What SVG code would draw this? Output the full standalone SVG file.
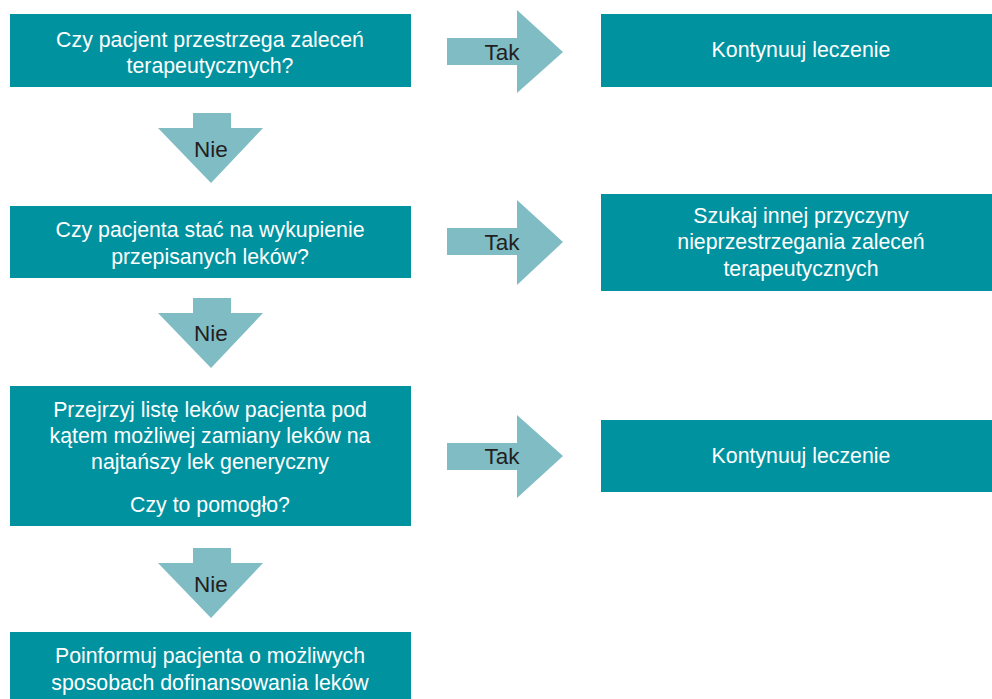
<svg xmlns="http://www.w3.org/2000/svg" width="992" height="699" viewBox="0 0 992 699">
<style>
.box{fill:#00929f}
.arr{fill:#7fbcc4}
.t{font-family:"Liberation Sans",Arial,sans-serif;font-size:21.3px;fill:#fff;text-anchor:middle}
.a{font-family:"Liberation Sans",Arial,sans-serif;font-size:22.5px;fill:#231f20;text-anchor:middle}
</style>
<rect width="992" height="699" fill="#fff"/>
<g id="connectors">
<g id="tak1"><polygon class="arr" points="447,38 517,38 517,10 563,52 517,93 517,65 447,65"/><text class="a" x="502" y="60">Tak</text></g>
<g id="tak2"><polygon class="arr" points="447,228 517,228 517,200 563,242 517,285 517,255 447,255"/><text class="a" x="502" y="250">Tak</text></g>
<g id="tak3"><polygon class="arr" points="447,443 517,443 517,415 563,456 517,498 517,470 447,470"/><text class="a" x="502" y="464">Tak</text></g>
<g id="nie1"><polygon class="arr" points="193,113 231,113 231,128 263,128 211,183 158,128 193,128"/><text class="a" x="211" y="157">Nie</text></g>
<g id="nie2"><polygon class="arr" points="193,298 231,298 231,313 263,313 211,368 158,313 193,313"/><text class="a" x="211" y="341">Nie</text></g>
<g id="nie3"><polygon class="arr" points="193,548 231,548 231,563 263,563 211,618 158,563 193,563"/><text class="a" x="211" y="592">Nie</text></g>
</g>
<g id="q1"><rect class="box" x="10" y="14" width="401" height="73"/>
<text class="t" x="210" y="47">Czy pacjent przestrzega zaleceń</text>
<text class="t" x="210" y="73">terapeutycznych?</text></g>
<g id="r1"><rect class="box" x="601" y="14" width="391" height="73"/>
<text class="t" x="801" y="57">Kontynuuj leczenie</text></g>
<g id="q2"><rect class="box" x="10" y="206" width="401" height="72"/>
<text class="t" x="210" y="237">Czy pacjenta stać na wykupienie</text>
<text class="t" x="210" y="264">przepisanych leków?</text></g>
<g id="r2"><rect class="box" x="601" y="194" width="391" height="97"/>
<text class="t" x="801" y="223">Szukaj innej przyczyny</text>
<text class="t" x="801" y="249">nieprzestrzegania zaleceń</text>
<text class="t" x="801" y="276">terapeutycznych</text></g>
<g id="q3"><rect class="box" x="10" y="386" width="401" height="140"/>
<text class="t" x="210" y="417">Przejrzyj listę leków pacjenta pod</text>
<text class="t" x="210" y="443">kątem możliwej zamiany leków na</text>
<text class="t" x="210" y="469">najtańszy lek generyczny</text>
<text class="t" x="210" y="512">Czy to pomogło?</text></g>
<g id="r3"><rect class="box" x="601" y="420" width="391" height="72"/>
<text class="t" x="801" y="463">Kontynuuj leczenie</text></g>
<g id="q4"><rect class="box" x="10" y="632" width="401" height="67"/>
<text class="t" x="210" y="663">Poinformuj pacjenta o możliwych</text>
<text class="t" x="210" y="690">sposobach dofinansowania leków</text></g>
</svg>
